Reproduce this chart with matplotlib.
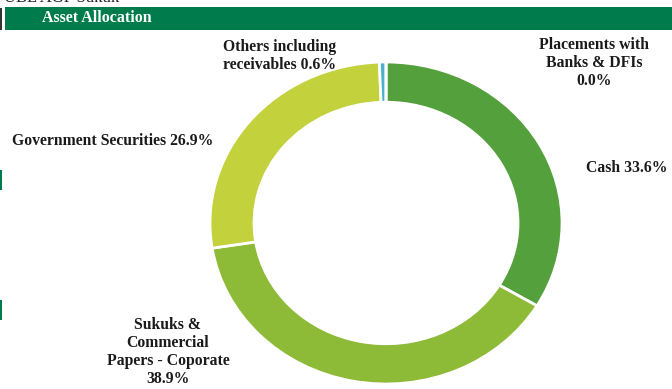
import matplotlib
matplotlib.use("Agg")
import matplotlib.pyplot as plt
from matplotlib.patches import Rectangle

# Asset allocation data (percent of net assets), clockwise from 12 o'clock
categories = ["Cash", "Sukuks & Commercial Papers - Coporate",
              "Government Securities", "Others including receivables",
              "Placements with Banks & DFIs"]
values = [33.6, 38.9, 26.9, 0.6, 0.0]
labels = ["Cash 33.6%",
          "Sukuks &\nCommercial\nPapers - Coporate\n38.9%",
          "Government Securities 26.9%",
          "Others including\nreceivables 0.6%",
          "Placements with\nBanks & DFIs\n0.0%"]
colors = ["#54A03C", "#8DBA37", "#C3D13C", "#4BB0C8", "#2E6FB5"]

W, H = 672, 389
fig = plt.figure(figsize=(W / 100, H / 100), dpi=100)
fig.patch.set_facecolor("white")

serif = ["Liberation Serif", "DejaVu Serif"]

# Header strip
fig.patches.append(Rectangle((5 / W, 1 - 30 / H), 1 - 5 / W, 23 / H,
                             transform=fig.transFigure, facecolor="#007B4B",
                             edgecolor="none"))
fig.patches.append(Rectangle((0, 1 - 30 / H), 1.5 / W, 22 / H,
                             transform=fig.transFigure, facecolor="#333333",
                             edgecolor="none"))
for y0 in (170, 300):
    fig.patches.append(Rectangle((0, 1 - (y0 + 20) / H), 1.5 / W, 20 / H,
                                 transform=fig.transFigure, facecolor="#007B4B",
                                 edgecolor="none"))
fig.text(42 / W, 1 - 18.5 / H, "Asset Allocation", color="white",
         fontsize=11.5, fontweight="bold", family=serif, va="center", ha="left")
fig.text(4 / W, 1 - 2 / H, "UBL AGP Sukuk", color="#222222", fontsize=12,
         family=serif, va="baseline", ha="left")

# Donut (slightly wider than tall)
cx, cy, rx, ry = 386, 223, 176, 161
ax = fig.add_axes([(cx - rx) / W, 1 - (cy + ry) / H, 2 * rx / W, 2 * ry / H])
wedges, _ = ax.pie(values, colors=colors, startangle=90, counterclock=False,
                   radius=1.0,
                   wedgeprops=dict(width=0.25, edgecolor="white", linewidth=2))
for w in wedges:
    w.set_clip_on(False)
ax.set_aspect("auto")
ax.set_xlim(-1, 1)
ax.set_ylim(-1, 1)
ax.axis("off")

# Label positions in pixel coordinates (centre of each text block)
label_pos = [(627, 168), (168, 352), (113, 141), (280, 56), (594, 63)]
for lab, (px, py) in zip(labels, label_pos):
    fig.text(px / W, 1 - py / H, lab, ha="center", va="center",
             fontsize=11.3, fontweight="bold", family=serif, color="#1a1a1a",
             linespacing=1.15)

fig.savefig("out.png", dpi=100)
